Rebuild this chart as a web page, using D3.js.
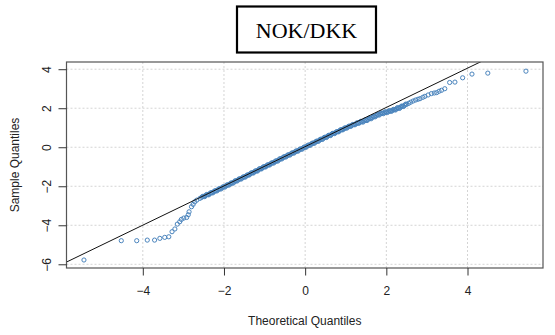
<!DOCTYPE html>
<html>
<head>
<meta charset="utf-8">
<script src="https://cdn.jsdelivr.net/npm/d3@7"></script>
<style>
    body { margin: 0; background: #fff; }
    .axis text { font-family: "Liberation Sans", Arial, sans-serif; font-size: 12px; fill: #222; }
    .axis line { stroke: #333; }
</style>
</head>
<body>
<div id="chart"></div>
<script>
// chart title and axis titles
const title = "NOK/DKK";
const xTitle = "Theoretical Quantiles";
const yTitle = "Sample Quantiles";

// tick values
const xTicks = [-4, -2, 0, 2, 4];
const yTicks = [-6, -4, -2, 0, 2, 4];

// theoretical quantiles
const theoretical = [
    -5.45, -4.53, -4.15, -3.89, -3.71, -3.58, -3.46, -3.36, -3.28, -3.21, -3.15, -3.09,
    -3.05, -2.99, -2.92, -2.88, -2.86, -2.80, -2.76, -2.72, -2.67, -2.59,
    -2.55, -2.50, -2.45, -2.40, -2.35, -2.30, -2.25, -2.20, -2.15, -2.10, -2.05, -2.00,
    -1.95, -1.90, -1.85, -1.80, -1.75, -1.70, -1.65, -1.60, -1.55, -1.50, -1.45, -1.40,
    -1.35, -1.30, -1.25, -1.20, -1.15, -1.10, -1.05, -1.00, -0.95, -0.90, -0.85, -0.80,
    -0.75, -0.70, -0.65, -0.60, -0.55, -0.50, -0.45, -0.40, -0.35, -0.30, -0.25, -0.20,
    -0.15, -0.10, -0.05, 0.00, 0.05, 0.10, 0.15, 0.20, 0.25, 0.30, 0.35, 0.40,
    0.45, 0.50, 0.55, 0.60, 0.65, 0.70, 0.75, 0.80, 0.85, 0.90, 0.95, 1.00,
    1.05, 1.10, 1.15, 1.20, 1.25, 1.30, 1.35, 1.40, 1.45, 1.50, 1.55, 1.60,
    1.65, 1.70, 1.75, 1.80, 1.85, 1.90, 1.95, 2.00, 2.05, 2.10, 2.15, 2.20,
    2.25, 2.30, 2.35, 2.40, 2.45, 2.50, 2.55, 2.60, 2.66, 2.72, 2.78, 2.83,
    2.90, 2.95, 3.03, 3.11, 3.18, 3.24, 3.30, 3.36, 3.44, 3.56, 3.69, 3.88,
    4.11, 4.50, 5.44
];

// sample quantiles
const sample = [
    -5.78, -4.79, -4.79, -4.76, -4.76, -4.67, -4.62, -4.59, -4.33, -4.19, -3.94, -3.82,
    -3.70, -3.63, -3.60, -3.46, -3.31, -3.05, -2.93, -2.80, -2.71, -2.62,
    -2.57, -2.52, -2.47, -2.43, -2.38, -2.33, -2.28, -2.23, -2.18, -2.13, -2.08, -2.03,
    -1.98, -1.93, -1.88, -1.83, -1.78, -1.72, -1.67, -1.62, -1.57, -1.52, -1.47, -1.42,
    -1.36, -1.31, -1.26, -1.21, -1.16, -1.10, -1.05, -1.00, -0.95, -0.90, -0.85, -0.80,
    -0.75, -0.70, -0.65, -0.59, -0.54, -0.49, -0.44, -0.39, -0.34, -0.29, -0.24, -0.19,
    -0.14, -0.09, -0.04, 0.01, 0.06, 0.11, 0.16, 0.21, 0.26, 0.31, 0.36, 0.41,
    0.46, 0.51, 0.56, 0.61, 0.66, 0.71, 0.75, 0.80, 0.85, 0.90, 0.94, 0.99,
    1.03, 1.08, 1.12, 1.16, 1.20, 1.24, 1.28, 1.31, 1.35, 1.39, 1.43, 1.48,
    1.52, 1.57, 1.62, 1.67, 1.71, 1.74, 1.77, 1.80, 1.83, 1.86, 1.89, 1.93,
    1.97, 2.01, 2.05, 2.10, 2.15, 2.20, 2.25, 2.31, 2.37, 2.42, 2.46, 2.49,
    2.56, 2.61, 2.68, 2.75, 2.78, 2.80, 2.87, 2.92, 3.00, 3.32, 3.34, 3.56,
    3.75, 3.80, 3.90
];

// extra readings from the dense middle band (its width)
const bandTheoretical = [
    -2.525, -2.475, -2.425, -2.375, -2.325, -2.275, -2.225, -2.175, -2.125, -2.075,
    -2.025, -1.975, -1.925, -1.875, -1.825, -1.775, -1.725, -1.675, -1.625, -1.575,
    -1.525, -1.475, -1.425, -1.375, -1.325, -1.275, -1.225, -1.175, -1.125, -1.075,
    -1.025, -0.975, -0.925, -0.875, -0.825, -0.775, -0.725, -0.675, -0.625, -0.575,
    -0.525, -0.475, -0.425, -0.375, -0.325, -0.275, -0.225, -0.175, -0.125, -0.075,
    -0.025, 0.025, 0.075, 0.125, 0.175, 0.225, 0.275, 0.325, 0.375, 0.425,
    0.475, 0.525, 0.575, 0.625, 0.675, 0.725, 0.775, 0.825, 0.875, 0.925,
    0.975, 1.025, 1.075, 1.125, 1.175, 1.225, 1.275, 1.325, 1.375, 1.425,
    1.475, 1.525, 1.575, 1.625, 1.675, 1.725, 1.775, 1.825, 1.875, 1.925,
    1.975, 2.025, 2.075, 2.125, 2.175, 2.225, 2.275, 2.325, 2.375, 2.425, 2.475
];
const bandSample = [
    -2.52, -2.53, -2.42, -2.44, -2.33, -2.34, -2.23, -2.24, -2.13, -2.14,
    -2.03, -2.04, -1.93, -1.94, -1.83, -1.84, -1.72, -1.73, -1.62, -1.63,
    -1.52, -1.53, -1.42, -1.42, -1.31, -1.32, -1.21, -1.22, -1.10, -1.11,
    -1.00, -1.01, -0.90, -0.91, -0.80, -0.81, -0.70, -0.71, -0.59, -0.60,
    -0.49, -0.50, -0.39, -0.40, -0.29, -0.30, -0.19, -0.20, -0.09, -0.10,
    0.01, 0.00, 0.11, 0.10, 0.21, 0.20, 0.31, 0.30, 0.41, 0.40,
    0.51, 0.50, 0.61, 0.60, 0.71, 0.70, 0.80, 0.79, 0.90, 0.89,
    0.99, 0.98, 1.08, 1.07, 1.17, 1.15, 1.25, 1.23, 1.33, 1.29,
    1.40, 1.37, 1.49, 1.46, 1.58, 1.56, 1.68, 1.65, 1.76, 1.72,
    1.82, 1.78, 1.88, 1.84, 1.94, 1.91, 2.03, 1.99, 2.11, 2.09, 2.21
];

// reference line (qqline)
const lineSlope = 1.006;
const lineIntercept = 0.03;

const width = 555, height = 335;
const margin = {top: 62, right: 12, bottom: 67, left: 66.5};
const w = width - margin.left - margin.right;
const h = height - margin.top - margin.bottom;

const svg = d3.select("#chart").append("svg")
    .attr("width", width)
    .attr("height", height);

const g = svg.append("g")
    .attr("transform", `translate(${margin.left},${margin.top})`);

const x = d3.scaleLinear().domain([-5.88, 5.86]).range([0, w]);
const y = d3.scaleLinear().domain([-6.19, 4.37]).range([h, 0]);

// grid
g.append("g").selectAll("line")
    .data(xTicks)
    .enter().append("line")
    .attr("x1", d => x(d)).attr("x2", d => x(d))
    .attr("y1", 0).attr("y2", h)
    .attr("stroke", "#d4d4d4")
    .attr("stroke-dasharray", "2,2");

g.append("g").selectAll("line")
    .data(yTicks)
    .enter().append("line")
    .attr("x1", 0).attr("x2", w)
    .attr("y1", d => y(d)).attr("y2", d => y(d))
    .attr("stroke", "#d4d4d4")
    .attr("stroke-dasharray", "2,2");

// clip for the reference line
svg.append("clipPath").attr("id", "plotclip")
    .append("rect").attr("width", w).attr("height", h);

// points
const points = theoretical.map((t, i) => ({t: t, s: sample[i]}))
    .concat(bandTheoretical.map((t, i) => ({t: t, s: bandSample[i]})));

g.append("g").selectAll("circle")
    .data(points)
    .enter().append("circle")
    .attr("cx", d => x(d.t))
    .attr("cy", d => y(d.s))
    .attr("r", 2.1)
    .attr("fill", "none")
    .attr("stroke", "#4a84bd")
    .attr("stroke-width", 1);

// reference line
const lineData = x.domain().map(t => ({t: t, s: lineIntercept + lineSlope * t}));
g.append("path")
    .datum(lineData)
    .attr("clip-path", "url(#plotclip)")
    .attr("fill", "none")
    .attr("stroke", "#111")
    .attr("stroke-width", 1)
    .attr("d", d3.line().x(d => x(d.t)).y(d => y(d.s)));

// box
g.append("rect")
    .attr("width", w).attr("height", h)
    .attr("fill", "none")
    .attr("stroke", "#555")
    .attr("stroke-width", 1.2);

// axes
const xAxis = d3.axisBottom(x).tickValues(xTicks).tickSize(7.5).tickPadding(11).tickFormat(d3.format("d"));
const yAxis = d3.axisLeft(y).tickValues(yTicks).tickSize(8).tickFormat(d3.format("d"));

g.append("g")
    .attr("class", "x-axis axis")
    .attr("transform", `translate(0,${h})`)
    .call(xAxis)
    .call(a => a.select(".domain").remove());

g.append("g")
    .attr("class", "y-axis axis")
    .call(yAxis)
    .call(a => a.select(".domain").remove())
    .selectAll("text")
    .attr("x", 0).attr("y", 0).attr("dy", null)
    .attr("text-anchor", "middle")
    .attr("transform", "translate(-16,0) rotate(-90)");

// axis titles
svg.append("text")
    .attr("x", margin.left + w / 2)
    .attr("y", 325)
    .attr("text-anchor", "middle")
    .style("font-family", "'Liberation Sans', Arial, sans-serif")
    .style("font-size", "12px")
    .style("fill", "#222")
    .text(xTitle);

svg.append("text")
    .attr("transform", `translate(19,${margin.top + h / 2}) rotate(-90)`)
    .attr("text-anchor", "middle")
    .style("font-family", "'Liberation Sans', Arial, sans-serif")
    .style("font-size", "12px")
    .style("fill", "#222")
    .text(yTitle);

// title box
svg.append("rect")
    .attr("x", 237).attr("y", 6.5)
    .attr("width", 139).attr("height", 46)
    .attr("fill", "#fff")
    .attr("stroke", "#000")
    .attr("stroke-width", 2.2);

svg.append("text")
    .attr("x", 306.5)
    .attr("y", 37.5)
    .attr("text-anchor", "middle")
    .style("font-family", "'Liberation Serif', 'Times New Roman', serif")
    .style("font-size", "22px")
    .style("fill", "#000")
    .text(title);
</script>
</body>
</html>
